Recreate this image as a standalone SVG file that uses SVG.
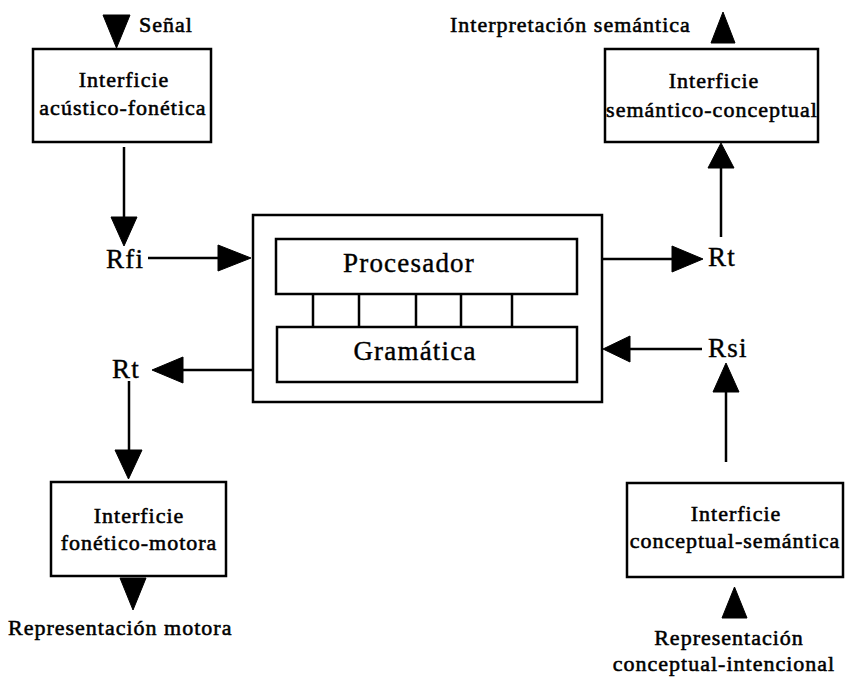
<svg xmlns="http://www.w3.org/2000/svg" width="845" height="683" viewBox="0 0 845 683">
  <defs>
    <style>
      .box { fill: #fff; stroke: #000; stroke-width: 2.5; }
      .line { fill: none; stroke: #000; stroke-width: 2.5; }
      .head { fill: #000; stroke: #000; stroke-width: 1; stroke-linejoin: round; }
      .sm { font-family: "Liberation Serif", "Times New Roman", serif; font-size: 22px; letter-spacing: 1px; fill: #000; stroke: #000; stroke-width: 0.55; }
      .lg { font-family: "Liberation Serif", "Times New Roman", serif; font-size: 27px; letter-spacing: 1.2px; fill: #000; stroke: #000; stroke-width: 0.4; }
      .mid { text-anchor: middle; }
    </style>
  </defs>
  <rect width="845" height="683" fill="#fff"/>

  <!-- central processing unit: Procesador + Gramática -->
  <g id="nucleo">
    <rect class="box" x="253" y="215" width="349" height="187"/>
    <rect class="box" x="276" y="239" width="301" height="55"/>
    <rect class="box" x="277" y="327" width="300" height="55"/>
    <path class="line" d="M313 294V327M359 294V327M416 294V327M461 294V327M512 294V327"/>
    <text class="lg mid" x="409" y="272">Procesador</text>
    <text class="lg mid" x="415" y="360">Gramática</text>
  </g>

  <g id="acustico-fonetica">
    <rect class="box" x="33" y="49" width="178" height="93"/>
    <text class="sm mid" x="124" y="87">Interficie</text>
    <text class="sm mid" x="123" y="115">acústico-fonética</text>
  </g>

  <g id="semantico-conceptual">
    <rect class="box" x="605" y="49" width="213" height="93"/>
    <text class="sm mid" x="714" y="88">Interficie</text>
    <text class="sm mid" x="712" y="117">semántico-conceptual</text>
  </g>

  <g id="fonetico-motora">
    <rect class="box" x="51" y="482" width="175" height="94"/>
    <text class="sm mid" x="139" y="523">Interficie</text>
    <text class="sm mid" x="139" y="550">fonético-motora</text>
  </g>

  <g id="conceptual-semantica">
    <rect class="box" x="627" y="483" width="216" height="94"/>
    <text class="sm mid" x="736" y="521">Interficie</text>
    <text class="sm mid" x="735" y="548">conceptual-semántica</text>
  </g>

  <!-- representation labels -->
  <g id="senal"><text class="sm" x="139" y="32">Señal</text></g>
  <g id="interpretacion"><text class="sm" x="450" y="32">Interpretación semántica</text></g>
  <g id="rep-motora"><text class="sm" x="8" y="635">Representación motora</text></g>
  <g id="rep-conceptual">
    <text class="sm mid" x="729" y="645">Representación</text>
    <text class="sm mid" x="724" y="671">conceptual-intencional</text>
  </g>
  <g id="rfi"><text class="lg" x="106" y="268">Rfi</text></g>
  <g id="rt-in"><text class="lg" x="112" y="378">Rt</text></g>
  <g id="rt-out"><text class="lg" x="708" y="266">Rt</text></g>
  <g id="rsi"><text class="lg" x="708" y="357">Rsi</text></g>

  <!-- connectors -->
  <g id="connectors">
    <polygon class="head" points="103,15 130,15 116.5,48"/>

    <path class="line" d="M124 147V218"/>
    <polygon class="head" points="111,217 137,217 124,246"/>

    <path class="line" d="M148 258H219"/>
    <polygon class="head" points="218,245 218,271 251,258"/>

    <path class="line" d="M253 370H182"/>
    <polygon class="head" points="183,357 183,383 152,370"/>

    <path class="line" d="M129 381V451"/>
    <polygon class="head" points="115,450 142,450 128.5,479"/>

    <polygon class="head" points="120,578 146,578 133,610"/>

    <polygon class="head" points="711,43 735,43 723,12"/>

    <path class="line" d="M721 167V237"/>
    <polygon class="head" points="708,168 734,168 721,143"/>

    <path class="line" d="M602 259H673"/>
    <polygon class="head" points="672,246 672,272 703,259"/>

    <path class="line" d="M702 349H629"/>
    <polygon class="head" points="630,336 630,362 603,349"/>

    <path class="line" d="M726 391V462"/>
    <polygon class="head" points="713,392 739,392 726,363"/>

    <polygon class="head" points="722,618 747,618 734.5,587"/>
  </g>
</svg>
